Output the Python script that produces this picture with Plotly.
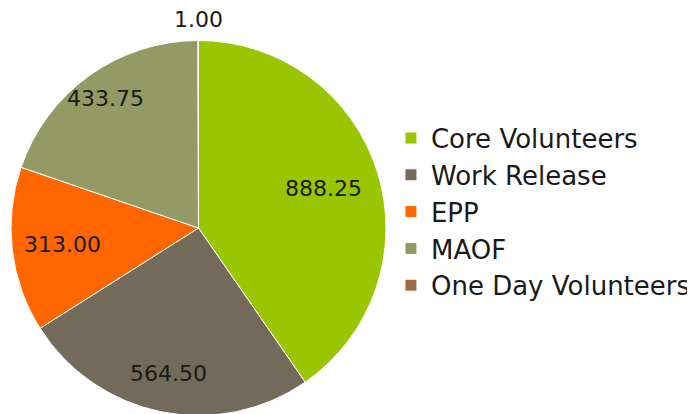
import math
import plotly.graph_objects as go

categories = ["Core Volunteers", "Work Release", "EPP", "MAOF", "One Day Volunteers"]
values = [888.25, 564.50, 313.00, 433.75, 1.00]
colors = ["#99C600", "#736A5A", "#FF6600", "#949A64", "#9E6B44"]

W, H = 695, 414
cx, cy, r = 190.5, 220, 187.5
FONT = "DejaVu Sans"
label_radius = [0.70, 0.79, 0.73, 0.85, 1.11]   # style: distance of each label from centre

fig = go.Figure(go.Pie(
    labels=categories,
    values=values,
    sort=False,
    direction="clockwise",
    rotation=0,
    marker=dict(colors=colors, line=dict(color="white", width=1)),
    textinfo="none",
    domain=dict(x=[(cx - r) / W, (cx + r) / W], y=[(H - cy - r) / H, (H - cy + r) / H]),
    hoverinfo="label+value",
))

# value labels placed at each slice's mid-angle (derived from the values)
total = sum(values)
cum = 0.0
annotations = []
for v, k in zip(values, label_radius):
    mid = (cum + v / 2) / total * 2 * math.pi
    cum += v
    rr = r * k
    x = cx + rr * math.sin(mid)
    y = cy - rr * math.cos(mid)
    annotations.append(dict(
        x=x / W, y=1 - y / H, xref="paper", yref="paper",
        xanchor="center", yanchor="middle",
        text=f"{v:.2f}", showarrow=False,
        font=dict(size=22, family=FONT, color="#1a1a1a"),
    ))

fig.update_layout(
    width=W, height=H,
    margin=dict(l=0, r=0, t=0, b=0),
    paper_bgcolor="white",
    font=dict(family=FONT, color="#1a1a1a"),
    annotations=annotations,
    legend=dict(x=0.551, y=0.507, xanchor="left", yanchor="middle",
                font=dict(size=26, family=FONT, color="#1a1a1a")),
)

fig.write_html("out.html")
